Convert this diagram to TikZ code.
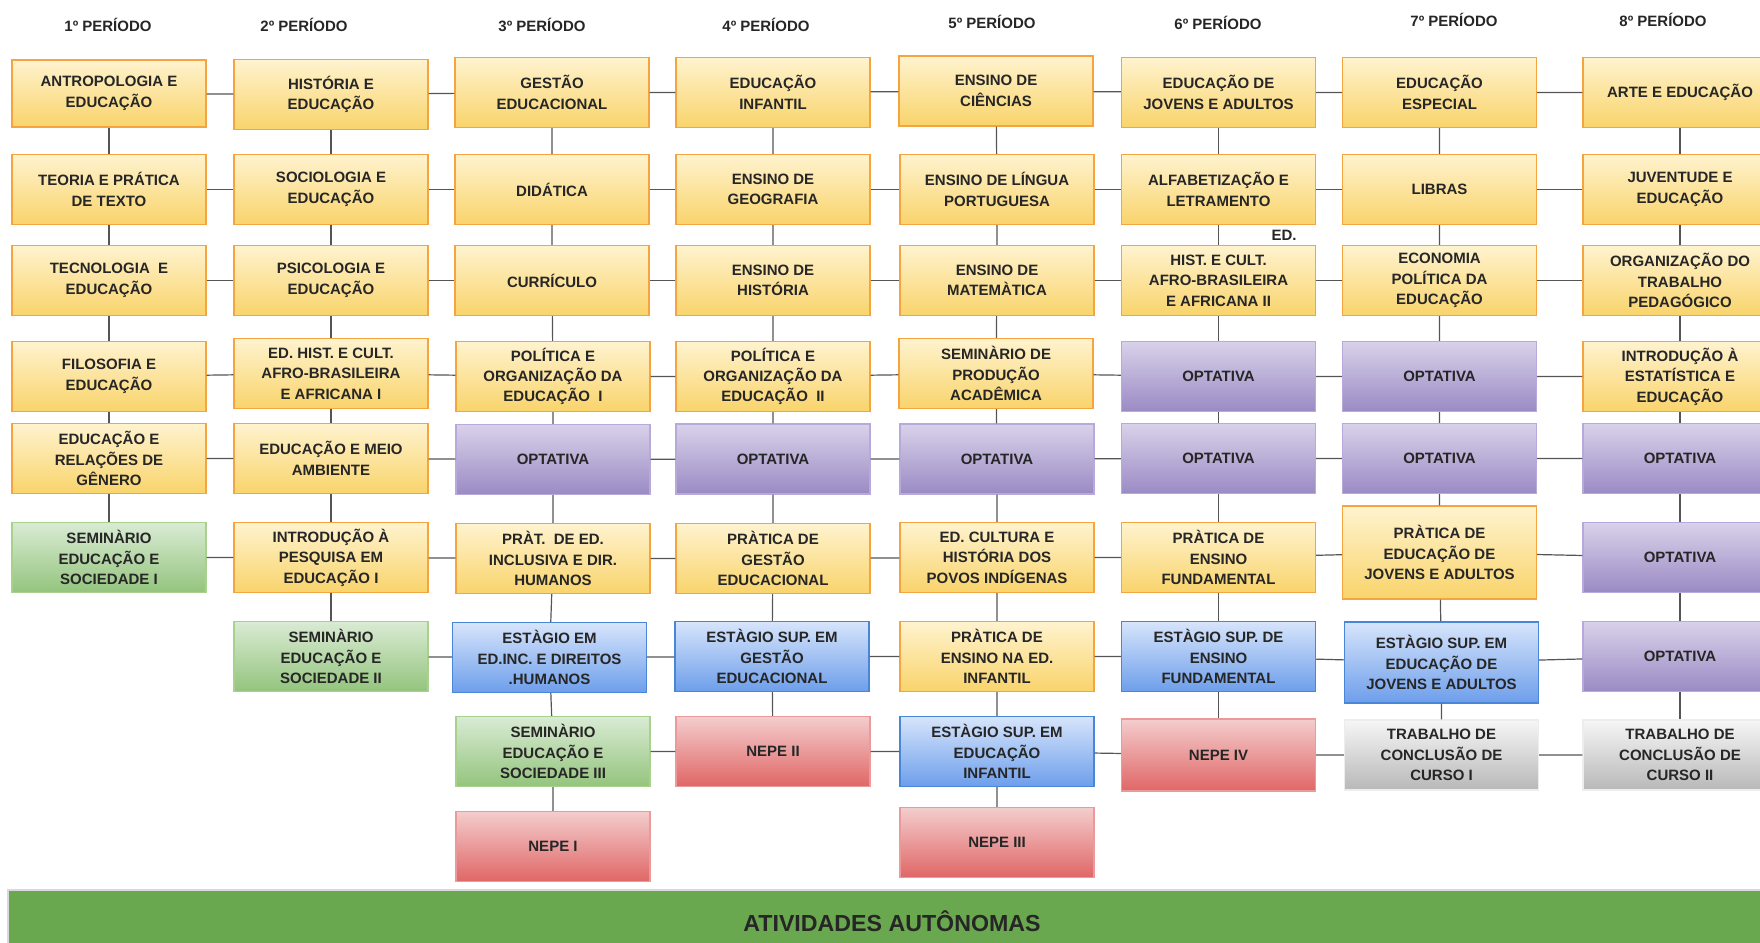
\documentclass[tikz,border=0pt]{standalone}
\usepackage{fontspec}
\setmainfont{Liberation Sans}
\usetikzlibrary{positioning}
\definecolor{orangetop}{HTML}{FFF3CF}
\definecolor{orangebot}{HTML}{F9D46B}
\definecolor{orangeline}{HTML}{F5A43F}
\definecolor{purpletop}{HTML}{D9D2EA}
\definecolor{purplebot}{HTML}{9A8AC4}
\definecolor{purpleline}{HTML}{B7AADA}
\definecolor{greentop}{HTML}{DAEBD4}
\definecolor{greenbot}{HTML}{93C47D}
\definecolor{greenline}{HTML}{A9D18E}
\definecolor{bluetop}{HTML}{D7E5FB}
\definecolor{bluebot}{HTML}{6D9EEB}
\definecolor{blueline}{HTML}{4A86D8}
\definecolor{redtop}{HTML}{F4CDCD}
\definecolor{redbot}{HTML}{E06666}
\definecolor{redline}{HTML}{EA9A9A}
\definecolor{graytop}{HTML}{F6F6F6}
\definecolor{graybot}{HTML}{B8B8B8}
\definecolor{grayline}{HTML}{EDEDED}
\definecolor{barfill}{HTML}{6AA84F}
\definecolor{linkgray}{HTML}{555555}
\tikzset{
    box/.style={
        draw,
        rectangle,
        line width=0.7pt,
        minimum width=97pt,
        minimum height=35pt,
        inner sep=1pt,
        align=center,
        text=black!85,
        font=\bfseries\fontsize{7.5}{10.2}\selectfont
    },
    course/.style={box, draw=orangeline, top color=orangetop, bottom color=orangebot},
    optbox/.style={box, draw=purpleline, top color=purpletop, bottom color=purplebot},
    seminbox/.style={box, draw=greenline, top color=greentop, bottom color=greenbot},
    stagebox/.style={box, draw=blueline, top color=bluetop, bottom color=bluebot},
    nepebox/.style={box, draw=redline, top color=redtop, bottom color=redbot},
    tccbox/.style={box, draw=grayline, top color=graytop, bottom color=graybot},
    period/.style={font=\bfseries\fontsize{7.5}{9}\selectfont, text=black!85},
    link/.style={draw=linkgray, line width=0.6pt}
}

\begin{document}
\begin{tikzpicture}[x=0.5pt, y=-0.5pt]
    \useasboundingbox (0,0) rectangle (1760,942);
    \clip (0,0) rectangle (1760,942);

    % Periods
    \node[period] (h1) at (108,25) {1º PERÍODO};
    \node[period] (h2) at (304,25) {2º PERÍODO};
    \node[period] (h3) at (542,25) {3º PERÍODO};
    \node[period] (h4) at (766,25) {4º PERÍODO};
    \node[period] (h5) at (992,22) {5º PERÍODO};
    \node[period] (h6) at (1218,23) {6º PERÍODO};
    \node[period] (h7) at (1454,20) {7º PERÍODO};
    \node[period] (h8) at (1663,20) {8º PERÍODO};

    % 1º periodo
    \node[course, minimum height=33.5pt] (p1r1) at (109,93.5) {ANTROPOLOGIA E\\EDUCAÇÃO};
    \node[course] (p1r2) at (109,189.5) {TEORIA E PRÁTICA\\DE TEXTO};
    \node[course] (p1r3) at (109,280.5) {TECNOLOGIA \ E\\EDUCAÇÃO};
    \node[course] (p1r4) at (109,376.5) {FILOSOFIA E\\EDUCAÇÃO};
    \node[course] (p1r5) at (109,458.5) {EDUCAÇÃO E\\RELAÇÕES DE\\GÊNERO};
    \node[seminbox] (p1r6) at (109,557.5) {SEMINÀRIO\\EDUCAÇÃO E\\SOCIEDADE I};

    % 2º periodo
    \node[course] (p2r1) at (331,94.5) {HISTÓRIA E\\EDUCAÇÃO};
    \node[course] (p2r2) at (331,189.5) {SOCIOLOGIA E\\EDUCAÇÃO};
    \node[course] (p2r3) at (331,280.5) {PSICOLOGIA E\\EDUCAÇÃO};
    \node[course] (p2r4) at (331,373.5) {ED. HIST. E CULT.\\AFRO-BRASILEIRA\\E AFRICANA I};
    \node[course] (p2r5) at (331,458.5) {EDUCAÇÃO E MEIO\\AMBIENTE};
    \node[course] (p2r6) at (331,557.5) {INTRODUÇÃO À\\PESQUISA EM\\EDUCAÇÃO I};
    \node[seminbox] (p2r7) at (331,656.5) {SEMINÀRIO\\EDUCAÇÃO E\\SOCIEDADE II};

    % 3º periodo
    \node[course] (p3r1) at (552,92.5) {GESTÃO\\EDUCACIONAL};
    \node[course] (p3r2) at (552,189.5) {DIDÁTICA};
    \node[course] (p3r3) at (552,280.5) {CURRÍCULO};
    \node[course] (p3r4) at (553,376.5) {POLÍTICA E\\ORGANIZAÇÃO DA\\EDUCAÇÃO \ I};
    \node[optbox] (p3r5) at (553,459.5) {OPTATIVA};
    \node[course] (p3r6) at (553,558.5) {PRÀT. \ DE ED.\\INCLUSIVA E DIR.\\HUMANOS};
    \node[stagebox] (p3r7) at (549.5,657.5) {ESTÀGIO EM\\ED.INC. E DIREITOS\\.HUMANOS};
    \node[seminbox] (p3r8) at (553,751.5) {SEMINÀRIO\\EDUCAÇÃO E\\SOCIEDADE III};
    \node[nepebox] (p3r9) at (553,846.5) {NEPE I};

    % 4º periodo
    \node[course] (p4r1) at (773,92.5) {EDUCAÇÃO\\INFANTIL};
    \node[course] (p4r2) at (773,189.5) {ENSINO DE\\GEOGRAFIA};
    \node[course] (p4r3) at (773,280.5) {ENSINO DE\\HISTÓRIA};
    \node[course] (p4r4) at (773,376.5) {POLÍTICA E\\ORGANIZAÇÃO DA\\EDUCAÇÃO \ II};
    \node[optbox] (p4r5) at (773,459) {OPTATIVA};
    \node[course] (p4r6) at (773,558.5) {PRÀTICA DE\\GESTÃO\\EDUCACIONAL};
    \node[stagebox] (p4r7) at (772,656.5) {ESTÀGIO SUP. EM\\GESTÃO\\EDUCACIONAL};
    \node[nepebox] (p4r8) at (773,751.5) {NEPE II};

    % 5º periodo
    \node[course] (p5r1) at (996,91) {ENSINO DE\\CIÊNCIAS};
    \node[course] (p5r2) at (997,189.5) {ENSINO DE LÍNGUA\\PORTUGUESA};
    \node[course] (p5r3) at (997,280.5) {ENSINO DE\\MATEMÀTICA};
    \node[course] (p5r4) at (996,373.5) {SEMINÀRIO DE\\PRODUÇÃO\\ACADÊMICA};
    \node[optbox] (p5r5) at (997,459) {OPTATIVA};
    \node[course] (p5r6) at (997,557.5) {ED. CULTURA E\\HISTÓRIA DOS\\POVOS INDÍGENAS};
    \node[course] (p5r7) at (997,656.5) {PRÀTICA DE\\ENSINO NA ED.\\INFANTIL};
    \node[stagebox] (p5r8) at (997,751.5) {ESTÀGIO SUP. EM\\EDUCAÇÃO\\INFANTIL};
    \node[nepebox] (p5r9) at (997,842.5) {NEPE III};

    % 6º periodo
    \node[course] (p6r1) at (1218.5,92.5) {EDUCAÇÃO DE\\JOVENS E ADULTOS};
    \node[course] (p6r2) at (1218.5,189.5) {ALFABETIZAÇÃO E\\LETRAMENTO};
    \node[course] (p6r3) at (1218.5,280.5) {HIST. E CULT.\\AFRO-BRASILEIRA\\E AFRICANA II};
    \node[period] (p6ed) at (1284,235) {ED.};
    \node[optbox] (p6r4) at (1218.5,376.5) {OPTATIVA};
    \node[optbox] (p6r5) at (1218.5,458.5) {OPTATIVA};
    \node[course] (p6r6) at (1218.5,557.5) {PRÀTICA DE\\ENSINO\\FUNDAMENTAL};
    \node[stagebox] (p6r7) at (1218.5,656.5) {ESTÀGIO SUP. DE\\ENSINO\\FUNDAMENTAL};
    \node[nepebox, minimum height=36pt] (p6r8) at (1218.5,755) {NEPE IV};

    % 7º periodo
    \node[course] (p7r1) at (1439.5,92.5) {EDUCAÇÃO\\ESPECIAL};
    \node[course] (p7r2) at (1439.5,189.5) {LIBRAS};
    \node[course] (p7r3) at (1439.5,280.5) {ECONOMIA\\POLÍTICA DA\\EDUCAÇÃO};
    \node[optbox] (p7r4) at (1439.5,376.5) {OPTATIVA};
    \node[optbox] (p7r5) at (1439.5,458.5) {OPTATIVA};
    \node[course, minimum height=46.5pt] (p7r6) at (1439.5,552.5) {PRÀTICA DE\\EDUCAÇÃO DE\\JOVENS E ADULTOS};
    \node[stagebox, minimum height=40.5pt] (p7r7) at (1441.5,662.5) {ESTÀGIO SUP. EM\\EDUCAÇÃO DE\\JOVENS E ADULTOS};
    \node[tccbox] (p7r8) at (1441.5,755) {TRABALHO DE\\CONCLUSÃO DE\\CURSO I};

    % 8º periodo
    \node[course] (p8r1) at (1680,92.5) {ARTE E EDUCAÇÃO};
    \node[course] (p8r2) at (1680,189.5) {JUVENTUDE E\\EDUCAÇÃO};
    \node[course] (p8r3) at (1680,280.5) {ORGANIZAÇÃO DO\\TRABALHO\\PEDAGÓGICO};
    \node[course] (p8r4) at (1680,376.5) {INTRODUÇÃO À\\ESTATÍSTICA E\\EDUCAÇÃO};
    \node[optbox] (p8r5) at (1680,458.5) {OPTATIVA};
    \node[optbox] (p8r6) at (1680,557.5) {OPTATIVA};
    \node[optbox] (p8r7) at (1680,656.5) {OPTATIVA};
    \node[tccbox] (p8r8) at (1680,755) {TRABALHO DE\\CONCLUSÃO DE\\CURSO II};

    % Links inside each periodo
    \draw[link] (p1r1) -- (p1r2) -- (p1r3) -- (p1r4) -- (p1r5) -- (p1r6);
    \draw[link] (p2r1) -- (p2r2) -- (p2r3) -- (p2r4) -- (p2r5) -- (p2r6) -- (p2r7);
    \draw[link] (p3r1) -- (p3r2) -- (p3r3) -- (p3r4) -- (p3r5) -- (p3r6) -- (p3r7) -- (p3r8) -- (p3r9);
    \draw[link] (p4r1) -- (p4r2) -- (p4r3) -- (p4r4) -- (p4r5) -- (p4r6) -- (p4r7) -- (p4r8);
    \draw[link] (p5r1) -- (p5r2) -- (p5r3) -- (p5r4) -- (p5r5) -- (p5r6) -- (p5r7) -- (p5r8) -- (p5r9);
    \draw[link] (p6r1) -- (p6r2) -- (p6r3) -- (p6r4) -- (p6r5) -- (p6r6) -- (p6r7) -- (p6r8);
    \draw[link] (p7r1) -- (p7r2) -- (p7r3) -- (p7r4) -- (p7r5) -- (p7r6) -- (p7r7) -- (p7r8);
    \draw[link] (p8r1) -- (p8r2) -- (p8r3) -- (p8r4) -- (p8r5) -- (p8r6) -- (p8r7) -- (p8r8);

    % Links between periodos
    \draw[link] (p1r1) -- (p2r1) -- (p3r1) -- (p4r1) -- (p5r1) -- (p6r1) -- (p7r1) -- (p8r1);
    \draw[link] (p1r2) -- (p2r2) -- (p3r2) -- (p4r2) -- (p5r2) -- (p6r2) -- (p7r2) -- (p8r2);
    \draw[link] (p1r3) -- (p2r3) -- (p3r3) -- (p4r3) -- (p5r3) -- (p6r3) -- (p7r3) -- (p8r3);
    \draw[link] (p1r4) -- (p2r4) -- (p3r4) -- (p4r4) -- (p5r4) -- (p6r4) -- (p7r4) -- (p8r4);
    \draw[link] (p1r5) -- (p2r5) -- (p3r5) -- (p4r5) -- (p5r5) -- (p6r5) -- (p7r5) -- (p8r5);
    \draw[link] (p1r6) -- (p2r6) -- (p3r6) -- (p4r6) -- (p5r6) -- (p6r6) -- (p7r6) -- (p8r6);
    \draw[link] (p2r7) -- (p3r7) -- (p4r7) -- (p5r7) -- (p6r7) -- (p7r7) -- (p8r7);
    \draw[link] (p3r8) -- (p4r8) -- (p5r8) -- (p6r8) -- (p7r8) -- (p8r8);

    % Atividades autonomas
    \draw[draw=black!15, fill=barfill, line width=0.8pt] (8,890) rectangle (1790,960);
    \node[font=\bfseries\fontsize{11.6}{14}\selectfont, text=black!85] (atv) at (892,921) {ATIVIDADES AUTÔNOMAS};
\end{tikzpicture}
\end{document}
